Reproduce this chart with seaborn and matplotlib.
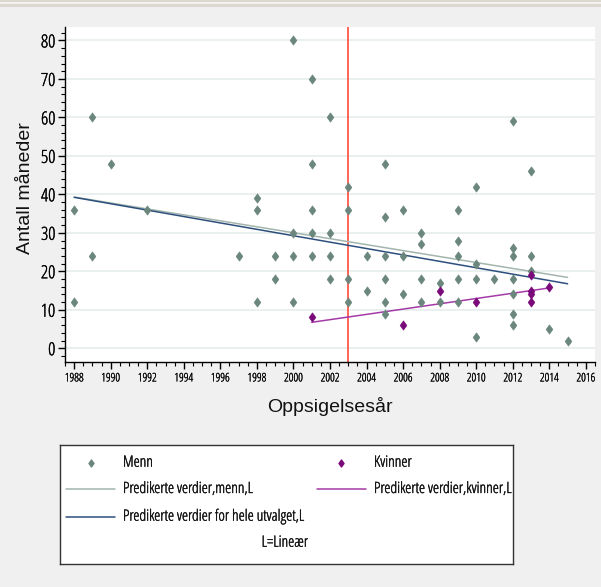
import numpy as np
import pandas as pd
import matplotlib
matplotlib.use("Agg")
import matplotlib.pyplot as plt
import matplotlib.patheffects as pe
from matplotlib.path import Path
from matplotlib.patches import Rectangle
from matplotlib.ticker import MultipleLocator
from matplotlib import font_manager
from matplotlib.font_manager import FontProperties
import os
import seaborn as sns

# ---- data ----
menn_year = [1988, 1988, 1989, 1989, 1990, 1992, 1997,
             1998, 1998, 1998, 1999, 1999,
             2000, 2000, 2000, 2000,
             2001, 2001, 2001, 2001, 2001,
             2002, 2002, 2002, 2002,
             2003, 2003, 2003, 2003,
             2004, 2004,
             2005, 2005, 2005, 2005, 2005, 2005,
             2006, 2006, 2006,
             2007, 2007, 2007, 2007,
             2008, 2008,
             2009, 2009, 2009, 2009, 2009,
             2010, 2010, 2010, 2010,
             2011,
             2012, 2012, 2012, 2012, 2012, 2012, 2012,
             2013, 2013, 2013,
             2014, 2015]
menn_months = [36, 12, 60, 24, 48, 36, 24,
               39, 36, 12, 24, 18,
               80, 30, 24, 12,
               70, 48, 36, 30, 24,
               60, 30, 24, 18,
               42, 36, 18, 12,
               24, 15,
               48, 34, 24, 18, 12, 9,
               36, 24, 14,
               30, 27, 18, 12,
               17, 12,
               36, 28, 24, 18, 12,
               42, 22, 18, 3,
               18,
               59, 26, 24, 18, 14, 9, 6,
               46, 24, 20,
               5, 2]
kvinner_year = [2001, 2006, 2008, 2010, 2013, 2013, 2013, 2013, 2014]
kvinner_months = [8, 6, 15, 12, 19, 15, 14, 12, 16]
cutoff_year = 2003

x_ticks = list(range(1988, 2017, 2))
y_ticks = list(range(0, 81, 10))

title_x = "Oppsigelsesår"
title_y = "Antall måneder"
leg_menn = "Menn"
leg_kvinner = "Kvinner"
leg_pred_menn = "Predikerte verdier,menn,L"
leg_pred_kvinner = "Predikerte verdier,kvinner,L"
leg_pred_all = "Predikerte verdier for hele utvalget,L"
leg_note = "L=Lineær"

# ---- styling ----
C_MENN = "#6b877d"
C_KV = "#7a0a7a"
C_L_MENN = "#a3b5ad"
C_L_KV = "#a43aa8"
C_L_ALL = "#2d4f7d"
C_RED = "#ff4a3a"
BG = "#f0f0f0"
TXT = "#111111"

sns.set_theme(style="white")
plt.rcParams["font.family"] = ["Liberation Sans", "DejaVu Sans"]
plt.rcParams["text.color"] = TXT
plt.rcParams["axes.labelcolor"] = TXT
plt.rcParams["xtick.color"] = "black"
plt.rcParams["ytick.color"] = "black"


def _wnum(w):
    if isinstance(w, (int, float)):
        return w
    return font_manager.weight_dict.get(str(w).lower(), 400)


def pick_narrow():
    fam_rank = ["liberation sans narrow", "arial narrow", "noto sans", "open sans",
                "roboto", "lato", "inter", "dejavu sans"]
    best = None
    for f in font_manager.fontManager.ttflist:
        b = os.path.basename(f.fname).lower()
        if not any(k in b for k in ("narrow", "condensed", "cond")):
            continue
        if "italic" in b or "oblique" in b or f.style != "normal":
            continue
        if "mono" in b or "serif" in b.replace("sans", ""):
            continue
        fname = f.name.lower()
        fr = len(fam_rank)
        for i, fam in enumerate(fam_rank):
            if fname.startswith(fam):
                fr = i
                break
        width_pen = 0
        if "extra" in b or "ultra" in b:
            width_pen = 2
        elif "semi" in b:
            width_pen = 1
        score = (fr, width_pen, abs(_wnum(f.weight) - 400))
        if best is None or score < best[0]:
            best = (score, f.fname, _wnum(f.weight))
    if best is None:
        return None, 400
    return best[1], best[2]


NARROW_PATH, NARROW_W = pick_narrow()
STROKE = 0.25 if NARROW_W < 400 else 0.0


def nkw(size, stroke=STROKE):
    if NARROW_PATH:
        fp = FontProperties(fname=NARROW_PATH, size=size)
        d = dict(fontproperties=fp)
        if stroke > 0:
            d["path_effects"] = [pe.withStroke(linewidth=stroke, foreground=TXT)]
        return d
    return dict(fontsize=size * 0.8, family=["Liberation Sans", "DejaVu Sans"])


DIAMOND = Path([(0, 1), (0.72, 0), (0, -1), (-0.72, 0), (0, 1)],
               [Path.MOVETO, Path.LINETO, Path.LINETO, Path.LINETO, Path.CLOSEPOLY])

df_m = pd.DataFrame({"year": menn_year, "months": menn_months})
df_k = pd.DataFrame({"year": kvinner_year, "months": kvinner_months})
df_all = pd.concat([df_m, df_k], ignore_index=True)

fig = plt.figure(figsize=(6.01, 5.87), dpi=100)
fig.patch.set_facecolor(BG)
fig.add_artist(Rectangle((0, 1 - 7 / 587), 1, 7 / 587, transform=fig.transFigure,
                         facecolor="#dcd8d0", edgecolor="none", zorder=0))
fig.add_artist(Rectangle((0, 1 - 4 / 587), 1, 2 / 587, transform=fig.transFigure,
                         facecolor="#f4f2ee", edgecolor="none", zorder=1))

ax = fig.add_axes([65 / 601, 1 - 361.7 / 587, 530 / 601, (361.7 - 27) / 587])
ax.set_facecolor("white")

for y in y_ticks:
    ax.axhline(y, color="#e6eeec", lw=1.2, zorder=0)

ax.axvline(cutoff_year, color=C_RED, lw=1.2, zorder=1)


def fit_line(d, ax, color):
    sns.regplot(data=d, x="year", y="months", ax=ax, scatter=False, ci=None,
                truncate=True, color=color, line_kws={"lw": 1.1, "zorder": 2})


fit_line(df_m, ax, C_L_MENN)
fit_line(df_all, ax, C_L_ALL)
fit_line(df_k, ax, C_L_KV)

sns.scatterplot(data=df_m, x="year", y="months", ax=ax, marker=DIAMOND, s=44,
                color=C_MENN, edgecolor=C_MENN, linewidth=0.5, zorder=3)
sns.scatterplot(data=df_k, x="year", y="months", ax=ax, marker=DIAMOND, s=44,
                color=C_KV, edgecolor=C_KV, linewidth=0.5, zorder=4)

ax.set_xlim(1987.5, 2016.5)
ax.set_ylim(-3.5, 83.5)
ax.set_xticks(x_ticks)
ax.set_xticklabels([str(t) for t in x_ticks], **nkw(8.5, STROKE * 0.8))
ax.set_yticks(y_ticks)
ax.set_yticklabels([str(t) for t in y_ticks], **nkw(13))
ax.xaxis.set_minor_locator(MultipleLocator(0.5))
ax.yaxis.set_minor_locator(MultipleLocator(2))
ax.tick_params(axis="both", which="major", direction="out", length=5, width=1,
               color="black", bottom=True, left=True, pad=2)
ax.tick_params(axis="both", which="minor", direction="out", length=3, width=0.8,
               color="black", bottom=True, left=True)
for s in ["top", "right"]:
    ax.spines[s].set_visible(False)
for s in ["left", "bottom"]:
    ax.spines[s].set_color("black")
    ax.spines[s].set_linewidth(1)
ax.set_xlabel(title_x, fontsize=14, labelpad=9)
ax.set_ylabel(title_y, fontsize=14)
ax.yaxis.set_label_coords(-0.058, 0.52)

# ---- legend box ----
lx0, lx1, ly0, ly1 = 60, 513, 445, 564
lax = fig.add_axes([lx0 / 601, 1 - ly1 / 587, (lx1 - lx0) / 601, (ly1 - ly0) / 587])
lax.set_xlim(lx0, lx1)
lax.set_ylim(ly1, ly0)
lax.set_facecolor("white")
lax.set_xticks([])
lax.set_yticks([])
for s in lax.spines.values():
    s.set_color("#333333")
    s.set_linewidth(1)

fs = 11.2
lax.plot([91], [462.7], marker=DIAMOND, ms=5, color=C_MENN, ls="none")
lax.text(123, 462.7, leg_menn, va="center", ha="left", **nkw(fs))
lax.plot([341], [462.7], marker=DIAMOND, ms=5, color=C_KV, ls="none")
lax.text(374, 462.7, leg_kvinner, va="center", ha="left", **nkw(fs))
lax.plot([66, 115], [489, 489], color=C_L_MENN, lw=1.1)
lax.text(123, 489, leg_pred_menn, va="center", ha="left", **nkw(fs))
lax.plot([317, 366], [489, 489], color=C_L_KV, lw=1.1)
lax.text(374, 489, leg_pred_kvinner, va="center", ha="left", **nkw(fs))
lax.plot([66, 115], [516.7, 516.7], color=C_L_ALL, lw=1.1)
lax.text(123, 516.7, leg_pred_all, va="center", ha="left", **nkw(fs))
lax.text(285, 542.7, leg_note, va="center", ha="center", **nkw(fs))

fig.savefig("out.png", dpi=100, facecolor=fig.get_facecolor())
